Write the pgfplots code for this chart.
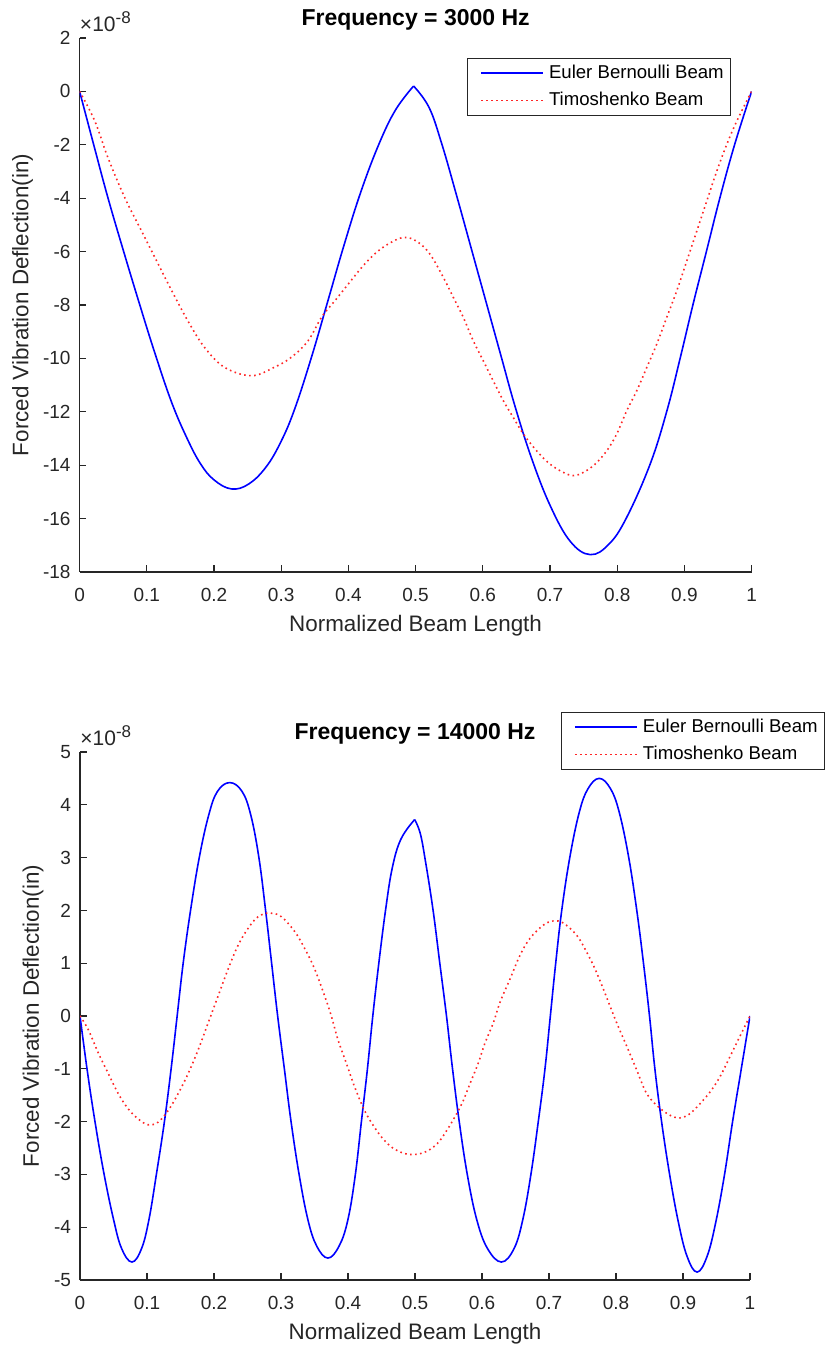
\documentclass[border=0pt]{standalone}
\usepackage{fontspec}
\setmainfont{Liberation Sans}
\usepackage{pgfplots}
\pgfplotsset{compat=1.18}
\definecolor{axgray}{rgb}{0.15,0.15,0.15}
\definecolor{mblue}{rgb}{0,0,1}
\definecolor{mred}{rgb}{1,0.15,0.15}
\newcommand{\expolabel}{{\fontsize{10.5}{12}\selectfont ×10\raisebox{0.42em}{\fontsize{8.5}{9}\selectfont -8}}}
\pgfplotsset{
  mstyle/.style={
    scale only axis,
    clip mode=individual,
    xmin=0, xmax=1,
    axis x line*=bottom, axis y line*=left,
    axis line style={axgray, line width=0.6pt},
    every tick/.style={axgray, line width=0.6pt},
    tick align=inside,
    major tick length=3.3pt,
    tick label style={font=\fontsize{9.5}{11}\selectfont, text=axgray},
    xticklabel style={yshift=-4.5pt},
    yticklabel style={xshift=-1pt},
    /pgf/number format/assume math mode=true,
    xtick={0,0.1,0.2,0.3,0.4,0.5,0.6,0.7,0.8,0.9,1},
    xticklabels={0,0.1,0.2,0.3,0.4,0.5,0.6,0.7,0.8,0.9,1},
    xlabel={Normalized Beam Length},
    ylabel={Forced Vibration Deflection(in)},
    label style={font=\fontsize{11.2}{13}\selectfont, text=axgray},
    xlabel style={at={(axis description cs:0.5,0)}, anchor=center, yshift=-27pt},
    title style={font=\fontsize{11.5}{13}\selectfont\bfseries, at={(axis description cs:0.5,1)}, anchor=base},
    legend style={draw=axgray, line width=0.5pt, fill=white,
      font=\fontsize{9.3}{10}\selectfont, inner xsep=2pt, inner ysep=1.2pt,
      row sep=1.5pt, nodes={inner sep=1.6pt, text height=7pt, text depth=2pt},
      cells={anchor=west}},
    legend image code/.code={\path (-4.5pt,0pt) (32pt,0pt); \draw[#1] (0pt,0pt) -- (31pt,0pt);},
  },
  ebstyle/.style={mblue, line width=0.8pt, smooth, tension=0.65},
  tstyle/.style={mred, line width=0.8pt, dash pattern=on 0.8pt off 1.7pt, smooth, tension=0.6},
}
\begin{document}
\begin{tikzpicture}
\useasboundingbox (0,0) rectangle (413pt,676pt);
% ---------------- top ----------------
\begin{axis}[mstyle,
  at={(39.8pt,390pt)}, anchor=south west,
  width=336pt, height=267pt,
  ymin=-18, ymax=2,
  ytick={-18,-16,-14,-12,-10,-8,-6,-4,-2,0,2},
  yticklabels={-18,-16,-14,-12,-10,-8,-6,-4,-2,0,2},
  ylabel style={at={(axis description cs:-0.0848,0.5)}, anchor=center},
  title={Frequency = 3000 Hz},
  legend style={at={(rel axis cs:0.970,0.9625)}, anchor=north east},
]
\addlegendimage{mblue, line width=0.8pt}
\addlegendentry{Euler Bernoulli Beam}
\addlegendimage{mred, line width=0.8pt, dash pattern=on 0.8pt off 1.7pt}
\addlegendentry{Timoshenko Beam}
\addplot[ebstyle, forget plot] coordinates {
(0,0) (0.021,-2.0) (0.042,-3.97) (0.065,-5.95) (0.089,-7.95) (0.112,-9.8)
(0.137,-11.65) (0.160,-13.0) (0.180,-13.95) (0.200,-14.55) (0.226,-14.89) (0.252,-14.7)
(0.278,-14.05) (0.300,-13.1) (0.320,-11.9) (0.345,-9.96) (0.370,-7.8)
(0.393,-5.8) (0.418,-3.8) (0.445,-2.0) (0.470,-0.7) (0.497,0.2)
};
\addplot[ebstyle, forget plot] coordinates {
(0.497,0.2) (0.520,-0.6) (0.539,-1.97) (0.561,-3.9) (0.583,-5.9) (0.605,-7.9)
(0.627,-9.9) (0.648,-11.8) (0.672,-13.7) (0.700,-15.5) (0.730,-16.85)
(0.760,-17.35) (0.788,-16.95) (0.814,-15.96) (0.849,-13.96) (0.874,-11.96)
(0.894,-9.96) (0.913,-7.96) (0.933,-5.97) (0.953,-3.97) (0.975,-1.97) (1,0)
};
\addplot[tstyle, forget plot] coordinates {
(0,0) (0.0223,-1.09) (0.042,-2.47) (0.067,-3.97) (0.092,-5.22) (0.112,-6.22)
(0.137,-7.46) (0.161,-8.59) (0.186,-9.59) (0.216,-10.34) (0.256,-10.65)
(0.290,-10.33) (0.315,-9.96) (0.340,-9.34) (0.360,-8.46) (0.380,-7.84)
(0.400,-7.21) (0.420,-6.59) (0.439,-6.09) (0.459,-5.72) (0.482,-5.47) (0.502,-5.62)
(0.5212,-6.09) (0.5411,-6.96) (0.5560,-7.71) (0.5709,-8.46) (0.5858,-9.34)
(0.6007,-10.09) (0.6155,-10.84) (0.6304,-11.58) (0.6453,-12.21) (0.6603,-12.83)
(0.6801,-13.46) (0.7000,-13.96) (0.7198,-14.27) (0.7347,-14.39) (0.7497,-14.27)
(0.7671,-13.96) (0.7845,-13.46) (0.7993,-12.83) (0.8142,-11.96) (0.8291,-11.21)
(0.8440,-10.34) (0.8589,-9.46) (0.8738,-8.46) (0.8887,-7.46) (0.9037,-6.34)
(0.9186,-5.22) (0.9335,-4.09) (0.9484,-2.97) (0.9633,-1.97) (0.9782,-1.10) (1,0)
};
\node[anchor=base west, inner sep=0pt, text=axgray]
  at (rel axis cs:0,1) [yshift=3pt] {\expolabel};
\end{axis}
% ---------------- bottom ----------------
\begin{axis}[mstyle,
  at={(40pt,36pt)}, anchor=south west,
  width=335pt, height=264pt,
  ymin=-5, ymax=5,
  ytick={-5,-4,-3,-2,-1,0,1,2,3,4,5},
  yticklabels={-5,-4,-3,-2,-1,0,1,2,3,4,5},
  ylabel style={at={(axis description cs:-0.0701,0.5)}, anchor=center},
  title={Frequency = 14000 Hz},
  legend style={at={(rel axis cs:1.1125,1.0758)}, anchor=north east},
]
\addlegendimage{mblue, line width=0.8pt}
\addlegendentry{Euler Bernoulli Beam}
\addlegendimage{mred, line width=0.8pt, dash pattern=on 0.8pt off 1.7pt}
\addlegendentry{Timoshenko Beam}
\addplot[ebstyle, forget plot] coordinates {
(0,0) (0.011,-1.05) (0.023,-2.05) (0.036,-3.0) (0.050,-3.85) (0.062,-4.4) (0.0775,-4.66)
(0.092,-4.4) (0.103,-3.85) (0.114,-3) (0.126,-2) (0.136,-1) (0.145,0) (0.154,1)
(0.165,2) (0.178,3) (0.192,3.8) (0.205,4.25) (0.2235,4.42) (0.242,4.25) (0.255,3.8)
(0.267,3) (0.277,2) (0.286,1) (0.295,0) (0.305,-1) (0.315,-2) (0.327,-3)
(0.340,-3.85) (0.353,-4.35) (0.370,-4.585) (0.387,-4.35) (0.400,-3.85) (0.411,-3)
(0.420,-2) (0.429,-1) (0.437,0) (0.446,1) (0.456,2) (0.466,2.8) (0.479,3.35) (0.4995,3.72)
};
\addplot[ebstyle, forget plot] coordinates {
(0.4995,3.72) (0.508,3.45) (0.516,2.9) (0.527,2) (0.537,1) (0.547,0) (0.556,-1) (0.566,-2)
(0.578,-3) (0.592,-3.85) (0.608,-4.4) (0.629,-4.66) (0.648,-4.4) (0.661,-3.85)
(0.673,-3) (0.684,-2) (0.694,-1) (0.702,0) (0.710,1) (0.719,2) (0.731,3)
(0.745,3.85) (0.758,4.3) (0.775,4.50) (0.792,4.3) (0.805,3.85) (0.819,3) (0.831,2)
(0.841,1) (0.850,0) (0.858,-1) (0.868,-2) (0.880,-3) (0.893,-3.9) (0.906,-4.55)
(0.921,-4.85) (0.936,-4.55) (0.949,-3.9) (0.962,-3) (0.974,-2) (0.987,-1) (1,0)
};
\addplot[tstyle, forget plot] coordinates {
(0,0) (0.0124,-0.26) (0.0273,-0.70) (0.0422,-1.09) (0.0571,-1.47) (0.0720,-1.76)
(0.0869,-1.95) (0.1018,-2.06) (0.1167,-2.01) (0.1316,-1.79) (0.1465,-1.47)
(0.1614,-1.09) (0.1764,-0.64) (0.1913,-0.13) (0.2062,0.38) (0.2211,0.89)
(0.2360,1.34) (0.2509,1.66) (0.2658,1.88) (0.2832,1.95) (0.3005,1.88)
(0.3204,1.60) (0.3353,1.28) (0.3502,0.89) (0.3651,0.38) (0.3751,0)
(0.3850,-0.45) (0.3974,-0.89) (0.4098,-1.34) (0.4247,-1.79) (0.4396,-2.11)
(0.4545,-2.36) (0.4694,-2.52) (0.4900,-2.62) (0.5124,-2.59) (0.5323,-2.43)
(0.5473,-2.17) (0.5622,-1.85) (0.5721,-1.60) (0.5821,-1.28) (0.5945,-0.89)
(0.6045,-0.51) (0.6169,-0.13) (0.6269,0.26) (0.6418,0.70) (0.6567,1.15)
(0.6716,1.47) (0.6915,1.72) (0.7065,1.80) (0.7214,1.76) (0.7413,1.53)
(0.7562,1.21) (0.7687,0.89) (0.7811,0.51) (0.7910,0.19) (0.8010,-0.13)
(0.8159,-0.57) (0.8308,-1.02) (0.8458,-1.47) (0.8632,-1.72) (0.8806,-1.88)
(0.8955,-1.93) (0.9104,-1.85) (0.9254,-1.66) (0.9403,-1.44) (0.9552,-1.15)
(0.9701,-0.77) (0.9851,-0.38) (1,0)
};
\node[anchor=base west, inner sep=0pt, text=axgray]
  at (rel axis cs:0,1) [yshift=3pt] {\expolabel};
\end{axis}
\end{tikzpicture}
\end{document}
